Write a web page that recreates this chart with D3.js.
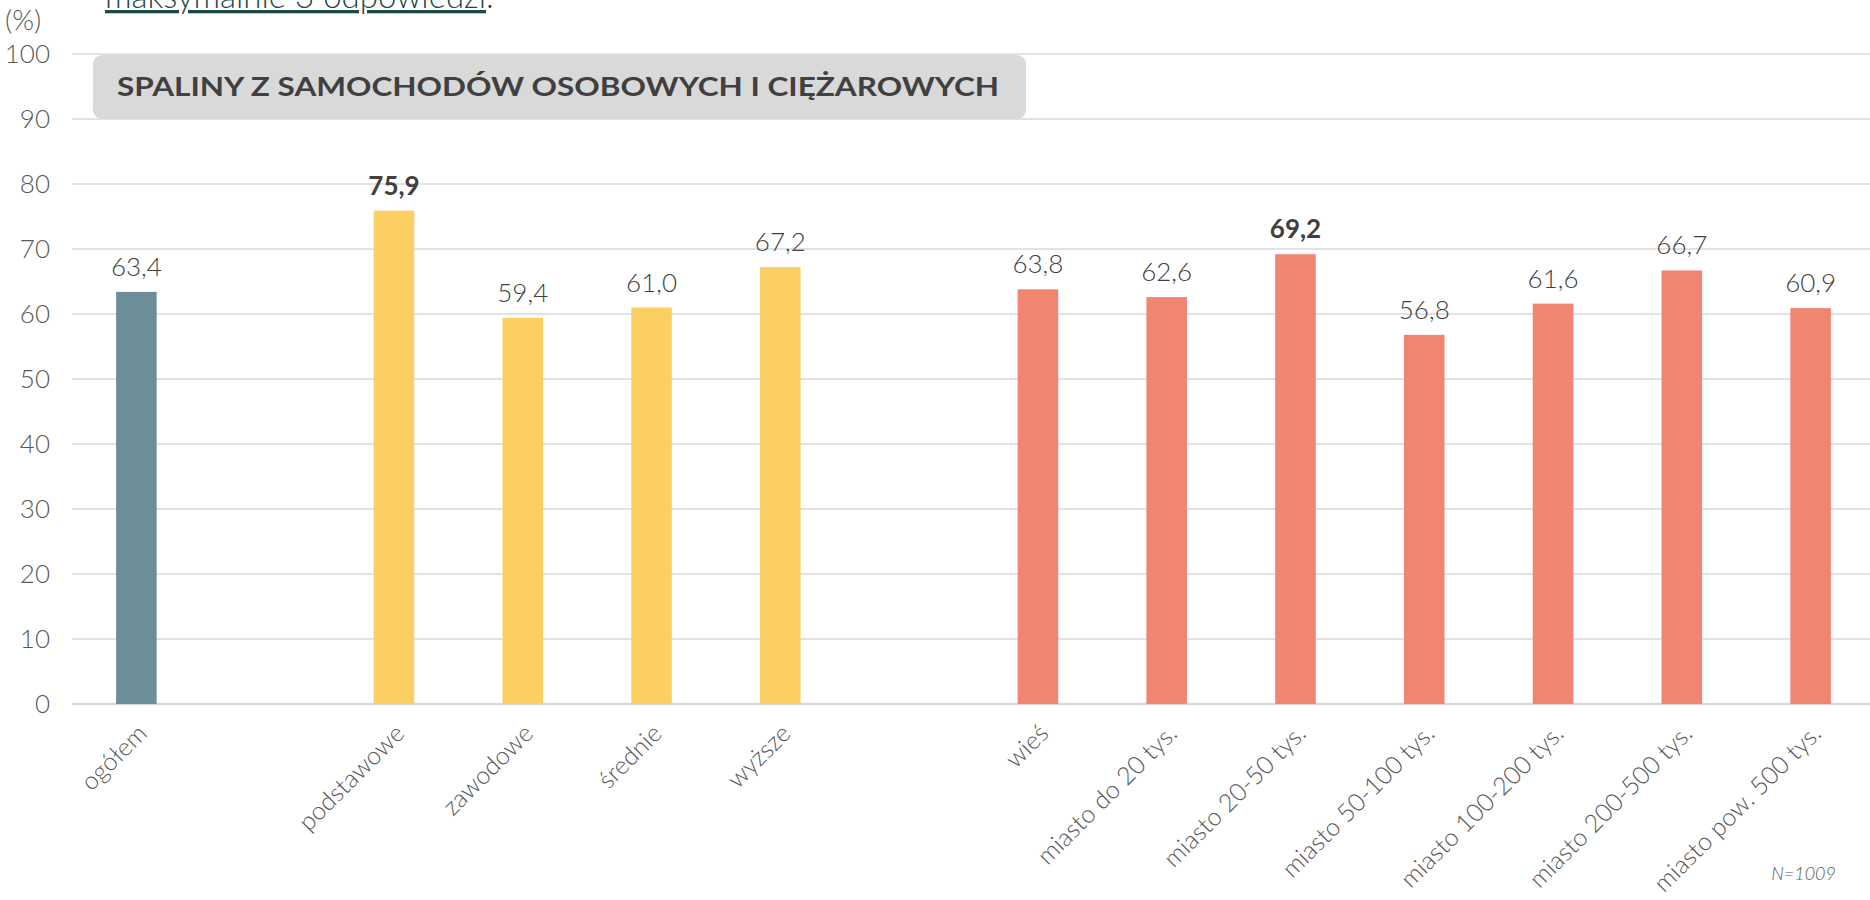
<!DOCTYPE html>
<html><head><meta charset="utf-8">
<script src="https://cdn.jsdelivr.net/npm/d3@7"></script>
<style>
html,body{margin:0;padding:0;background:#fff;overflow:hidden}
svg{display:block}
text{font-family:Lato,"Open Sans",sans-serif}
</style></head>
<body>
<svg id="c" width="1870" height="900"></svg>
<script>
const categories = ["ogółem","","podstawowe","zawodowe","średnie","wyższe","","wieś","miasto do 20 tys.","miasto 20-50 tys.","miasto 50-100 tys.","miasto 100-200 tys.","miasto 200-500 tys.","miasto pow. 500 tys."];
const values = [63.4,null,75.9,59.4,61.0,67.2,null,63.8,62.6,69.2,56.8,61.6,66.7,60.9];
const groups = ["total",null,"edu","edu","edu","edu",null,"place","place","place","place","place","place","place"];
const boldLabels = ["podstawowe","miasto 20-50 tys."];
const yTicks = [0,10,20,30,40,50,60,70,80,90,100];
const groupColors = {total:"#6B8E98", edu:"#FCCF62", place:"#F28572"};
const title = "SPALINY Z SAMOCHODÓW OSOBOWYCH I CIĘŻAROWYCH";
const topNote = "maksymalnie 3 odpowiedzi";
const unitLabel = "(%)";
const sampleNote = "N=1009";

const svg = d3.select("#c");
const x = d3.scaleBand().domain(d3.range(categories.length)).range([72, 1875]).paddingInner(0.685).paddingOuter(0.3425);
const y = d3.scaleLinear().domain([0,100]).range([704, 54]);
const fmt = v => d3.format(".1f")(v).replace(".", ",");

// gridlines
svg.append("g").selectAll("line").data(yTicks).join("line")
  .attr("x1", 72).attr("x2", 1870)
  .attr("y1", d => y(d)).attr("y2", d => y(d))
  .attr("stroke", "#D9D9D9").attr("stroke-width", d => d === 0 ? 2.5 : 1.5);

// y axis labels
const yAxis = d3.axisLeft(y).tickValues(yTicks).tickSize(0).tickPadding(0);
const ya = svg.append("g").attr("transform", "translate(50,0)").call(yAxis);
ya.select(".domain").remove();
ya.selectAll("text").attr("font-size", 26).attr("fill", "#595959").attr("font-family", "Lato,sans-serif").attr("font-weight", 300);

// title box
svg.append("rect").attr("x", 93).attr("y", 55).attr("width", 933).attr("height", 64).attr("rx", 9).attr("fill", "#D9D9D9");
svg.append("text").attr("x", 117).attr("y", 96).attr("font-size", 26).attr("font-weight", 700)
  .attr("fill", "#404040").attr("textLength", 882).attr("lengthAdjust", "spacingAndGlyphs").text(title);

// bars
const data = categories.map((c,i) => ({c, i, v: values[i], g: groups[i]})).filter(d => d.v !== null);
svg.append("g").selectAll("rect").data(data).join("rect")
  .attr("x", d => x(d.i)).attr("width", x.bandwidth())
  .attr("y", d => y(d.v)).attr("height", d => y(0) - y(d.v))
  .attr("fill", d => groupColors[d.g]);

// value labels
svg.append("g").selectAll("text").data(data).join("text")
  .attr("x", d => x(d.i) + x.bandwidth()/2).attr("y", d => y(d.v) - 16)
  .attr("text-anchor", "middle").attr("font-size", 26)
  .attr("font-weight", d => boldLabels.includes(d.c) ? 700 : 300)
  .attr("fill", "#404040")
  .text(d => fmt(d.v));

// category labels
svg.append("g").selectAll("text").data(data).join("text")
  .attr("transform", d => `translate(${x(d.i) + x.bandwidth()/2 + 12},${y(0) + 31}) rotate(-45)`)
  .attr("text-anchor", "end").attr("font-size", 25).attr("font-weight", 300)
  .attr("fill", "#595959").text(d => d.c);

// unit label
svg.append("text").attr("x", 5).attr("y", 30).attr("font-size", 28).attr("font-weight", 300).attr("fill", "#595959").text(unitLabel);

// top note (cropped at the top edge, as in the source)
const tn = svg.append("text").attr("x", 105).attr("y", 8).attr("font-size", 33).attr("font-weight", 300).attr("fill", "#1D4A45");
tn.append("tspan").attr("text-decoration", "underline").text(topNote);
tn.append("tspan").text(".");

// N note
svg.append("text").attr("x", 1836).attr("y", 880).attr("text-anchor", "end").attr("font-size", 18)
  .attr("font-style", "italic").attr("font-weight", 300).attr("fill", "#595959").text(sampleNote);
</script>
</body></html>
